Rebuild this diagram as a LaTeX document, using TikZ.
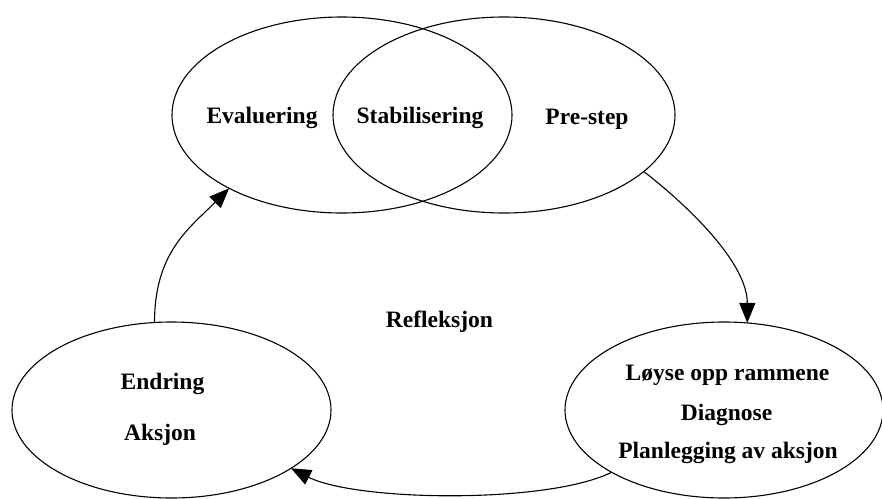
\documentclass[tikz,border=0pt]{standalone}
\usepackage{fontspec}
\setmainfont{Liberation Serif}
\usetikzlibrary{shapes.geometric,arrows.meta}
\begin{document}
\begin{tikzpicture}[x=1pt,y=-1pt,
  phase/.style={draw, ellipse, line width=1.1pt, inner sep=0pt, outer sep=0pt},
  lbl/.style={anchor=base, inner sep=0pt, font=\bfseries\fontsize{23.5}{28}\selectfont},
  flow/.style={line width=1.1pt, -{Triangle[length=20pt,width=16pt]}}
]
\useasboundingbox[fill=white] (0,0) rectangle (882,498);

% the four phases of the cycle
\node[phase, minimum width=340pt, minimum height=196pt] (tl) at (342,115) {};
\node[phase, minimum width=342pt, minimum height=196pt] (tr) at (504,115) {};
\node[phase, minimum width=319pt, minimum height=176pt] (bl) at (171.5,410) {};
\node[phase, minimum width=318pt, minimum height=176pt] (br) at (724,410) {};

% texts
\node[lbl] (evaluering) at (262,123) {Evaluering};
\node[lbl] (stabil) at (420,123) {Stabilisering};
\node[lbl] (prestep) at (587,124) {Pre-step};
\node[lbl] (refleksjon) at (439.5,327) {Refleksjon};
\node[lbl] (endring) at (162.5,389) {Endring};
\node[lbl] (aksjon) at (160,440) {Aksjon};
\node[lbl] (loyse) at (727.5,380) {Løyse opp rammene};
\node[lbl] (diagnose) at (726.5,420) {Diagnose};
\node[lbl] (plan) at (728,458) {Planlegging av aksjon};

% arrows between the phases
\draw[flow] (tr.-22) .. controls +(45,35) and +(0,-60) .. (br.75);
\draw[flow] (br.-151) .. controls +(-65,32) and +(65,33) .. (bl.-26);
\draw[flow] (bl.101) .. controls +(0,-70) and +(-40,40) .. (tl.-147);
\end{tikzpicture}
\end{document}
